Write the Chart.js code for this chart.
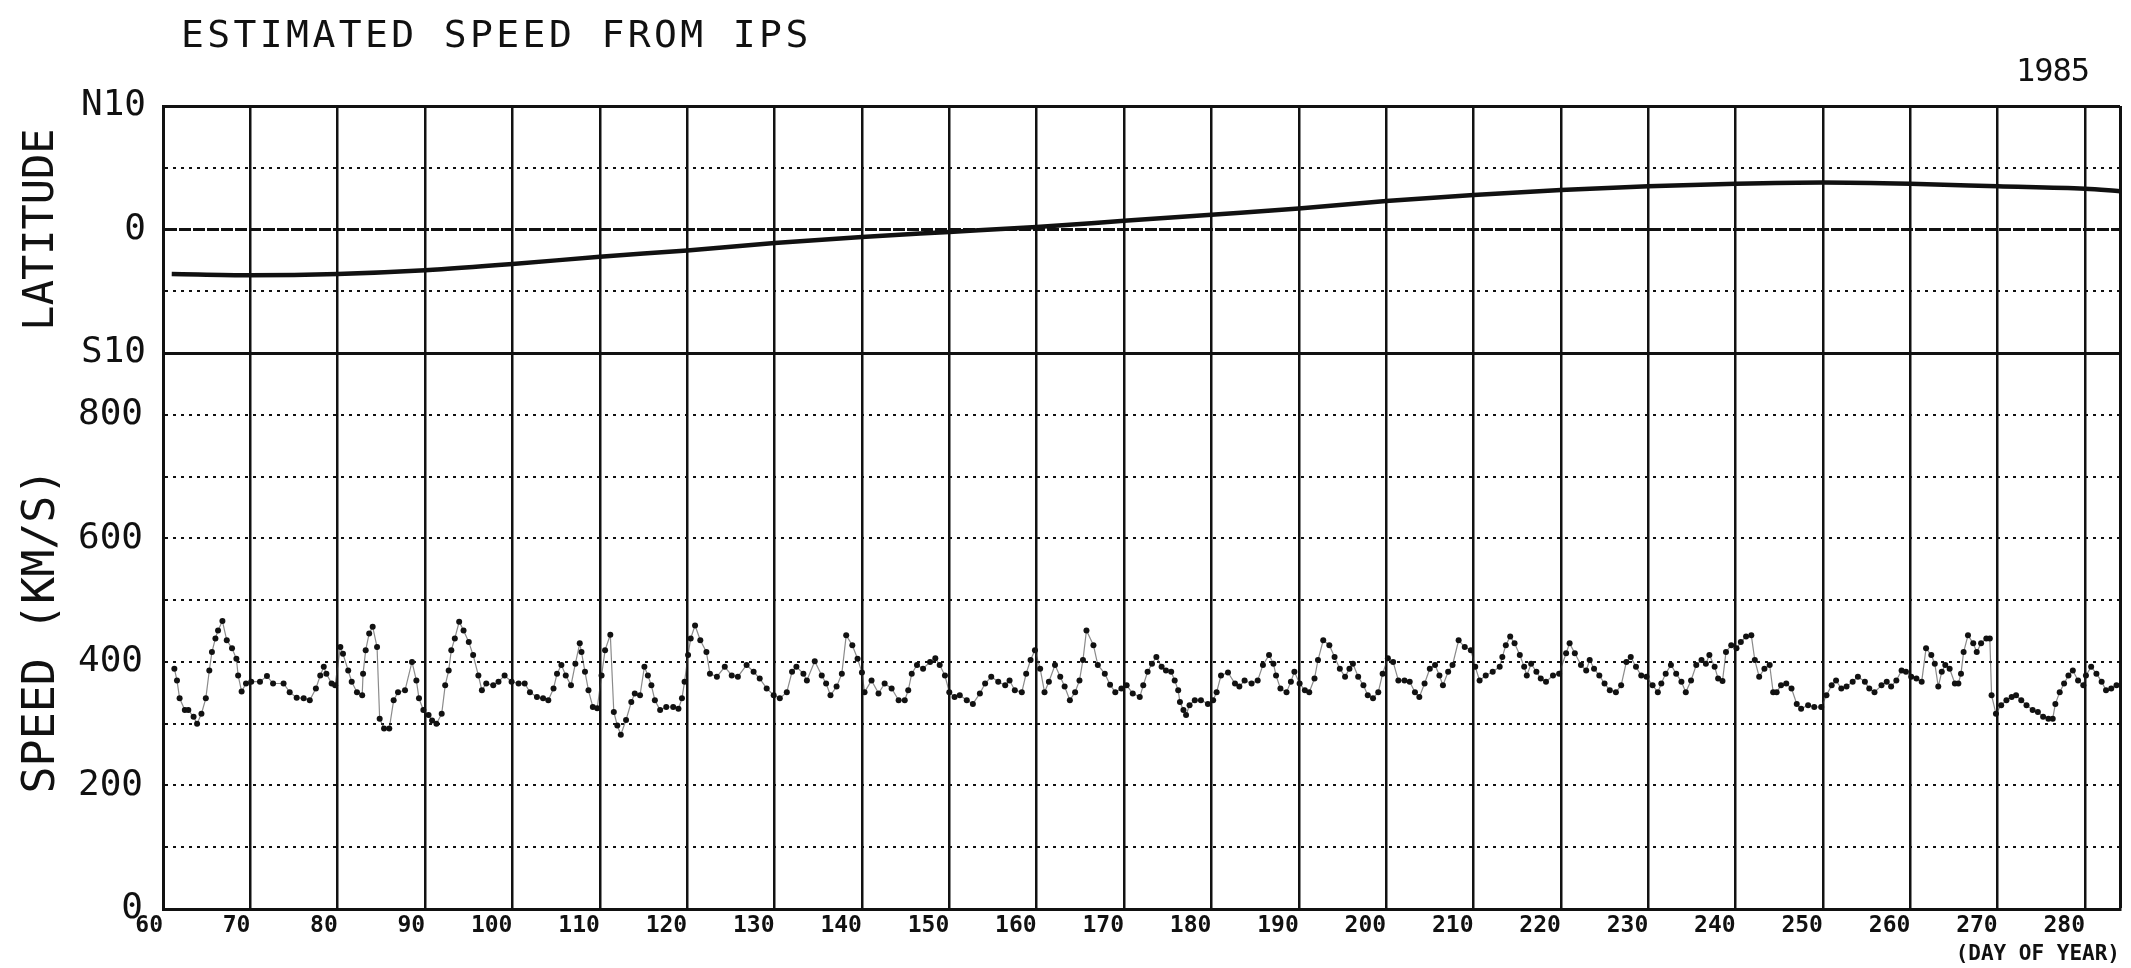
<!DOCTYPE html>
<html>
<head>
<meta charset="utf-8">
<title>Estimated speed from IPS, 1985</title>
<script src="https://cdn.jsdelivr.net/npm/chart.js@4.4.0/dist/chart.umd.min.js"></script>
<style>
    html, body { margin: 0; padding: 0; background: #fff; }
    #wrap { position: relative; width: 2131px; height: 968px; }
    #chartTitle { position: absolute; left: 181px; top: 15px; font: 38px 'DejaVu Sans Mono', monospace; letter-spacing: 3.4px; line-height: 1; color: #111; white-space: nowrap; }
    #chartYear { position: absolute; right: 42px; top: 54px; font: 32px 'DejaVu Sans Mono', monospace; letter-spacing: -1px; line-height: 1; color: #111; }
</style>
</head>
<body>
<div id="wrap">
    <canvas id="ipsChart" width="2131" height="968"></canvas>
    <div id="chartTitle">ESTIMATED SPEED FROM IPS</div>
    <div id="chartYear">1985</div>
</div>
<script>
// x axis: day of year
const xMin = 60;
const xMax = 284;
const dayTicks = [60, 70, 80, 90, 100, 110, 120, 130, 140, 150, 160, 170, 180, 190, 200, 210, 220, 230, 240, 250, 260, 270, 280];

// upper panel: latitude (N10 .. S10)
const latTicks = [-10, -5, 0, 5, 10];
const latTickLabels = { '10': 'N10', '0': '0', '-10': 'S10' };
const latDays = [61, 70, 80, 90, 100, 110, 120, 130, 140, 150, 160, 170, 180, 190, 200, 210, 220, 230, 240, 250, 260, 270, 280, 284];
const latValues = [-3.6, -3.7, -3.6, -3.3, -2.8, -2.2, -1.7, -1.1, -0.6, -0.2, 0.2, 0.7, 1.2, 1.7, 2.3, 2.8, 3.2, 3.5, 3.7, 3.8, 3.7, 3.5, 3.3, 3.1];

// lower panel: speed (km/s)
const speedTicks = [0, 100, 200, 300, 400, 500, 600, 700, 800, 900];
const speedLabelled = [0, 200, 400, 600, 800];
const speedDays = [
    61.3, 61.6, 61.9, 62.5, 62.9, 63.5, 63.9, 64.4, 64.9, 65.3, 65.6, 66.0, 66.3, 66.8, 67.3, 67.9, 68.4, 68.6, 69.0, 69.5,
    70.1, 71.1, 71.9, 72.6, 73.8, 74.5, 75.3, 76.1, 76.8, 77.5, 78.0, 78.4, 78.7, 79.3, 79.7, 80.3, 80.6, 81.2, 81.6, 82.2,
    82.8, 82.9, 83.2, 83.6, 84.0, 84.5, 84.8, 85.3, 85.9, 86.4, 86.9, 87.7, 88.5, 89.0, 89.3, 89.8, 90.4, 90.8, 91.3, 91.9,
    92.3, 92.7, 93.0, 93.4, 93.9, 94.4, 95.0, 95.5, 96.1, 96.5,
    97.0, 97.8, 98.4, 99.1, 99.9, 100.7, 101.4, 102.0, 102.8, 103.5, 104.1, 104.7, 105.1, 105.6, 106.1, 106.7, 107.2, 107.7, 107.9, 108.3,
    108.7, 109.2, 109.7, 110.2, 110.6, 111.2, 111.6, 112.0, 112.4, 113.0, 113.6, 114.0, 114.6, 115.1, 115.5, 115.9, 116.3, 116.9, 117.6, 118.4,
    119.0, 119.4, 119.7, 120.1, 120.4, 120.9, 121.5, 122.2, 122.6, 123.4, 124.3, 125.1, 125.8, 126.8, 127.6, 128.3, 129.1, 129.9, 130.6, 131.4,
    132.0, 132.5, 133.3,
    133.7, 134.6, 135.4, 135.9, 136.4, 137.1, 137.7, 138.2, 138.9, 139.5, 140.0, 140.3, 141.1, 141.9, 142.6, 143.4, 144.2, 144.9, 145.3, 145.7,
    146.3, 147.0, 147.8, 148.4, 148.9, 149.5, 150.0, 150.6, 151.2, 152.0, 152.7, 153.5, 154.1, 154.8, 155.6, 156.4, 156.9, 157.5, 158.3, 158.8,
    159.3, 159.8, 160.4, 160.9, 161.4, 162.1, 162.7, 163.2, 163.8, 164.4, 164.9, 165.3, 165.7, 166.5, 167.0, 167.8, 168.4, 169.0, 169.7,
    170.3, 171.0, 171.8, 172.2, 172.7, 173.2, 173.7, 174.3, 174.8, 175.4, 175.8, 176.2, 176.4, 176.8, 177.1, 177.5, 178.1, 178.8, 179.6, 180.2,
    180.6, 181.1, 181.9, 182.7, 183.2, 183.8, 184.6, 185.3, 185.9, 186.6, 187.1, 187.4, 187.9, 188.6, 189.1, 189.5, 190.1, 190.7, 191.2, 191.8,
    192.2, 192.8, 193.5, 194.1, 194.7, 195.3, 195.8, 196.2, 196.8, 197.4, 197.9, 198.5, 199.1, 199.6, 200.2, 200.8, 201.4, 202.1, 202.7, 203.3,
    203.8, 204.4, 205.0, 205.6, 206.1,
    206.5, 207.1, 207.6, 208.3, 209.0, 209.7, 210.2, 210.7, 211.4, 212.2, 213.0, 213.3, 213.7, 214.2, 214.7, 215.3, 215.8, 216.1, 216.6, 217.2,
    217.7, 218.3, 219.1, 219.8, 220.6, 221.0, 221.6, 222.3, 222.9, 223.3, 223.8, 224.4, 225.0, 225.6, 226.3, 226.9, 227.5, 228.0, 228.6, 229.2,
    229.8, 230.5, 231.1, 231.5, 232.0, 232.6, 233.2, 233.8, 234.3, 234.9, 235.5, 236.1, 236.6, 237.0, 237.6, 238.0, 238.5, 238.9, 239.5, 240.1,
    240.6, 241.2, 241.8, 242.2, 242.7, 243.3, 243.9, 244.3,
    244.7, 245.2, 245.8, 246.4, 247.0, 247.5, 248.3, 249.0, 249.8, 250.4, 251.0, 251.5, 252.1, 252.7, 253.4, 254.0, 254.8, 255.3, 255.9, 256.7,
    257.3, 257.8, 258.4, 259.0, 259.5, 260.1, 260.7, 261.3, 261.8, 262.4, 262.8, 263.2, 263.6, 264.0, 264.5, 265.1, 265.5, 265.8, 266.1, 266.6,
    267.2, 267.6, 268.1, 268.7, 269.1, 269.3, 269.8, 270.4, 271.0, 271.6, 272.1, 272.7, 273.3, 274.0, 274.6, 275.2, 275.8, 276.3, 276.6, 277.1,
    277.6, 278.1, 278.6, 279.2, 279.8, 280.1, 280.7, 281.3, 281.9, 282.4, 283.0, 283.6
];
const speedValues = [
    389, 370, 341, 322, 322, 311, 300, 316, 341, 386, 416, 438, 451, 466, 435, 422, 405, 378, 352, 365,
    368, 368, 377, 365, 365, 351, 342, 341, 338, 357, 378, 392, 381, 365, 362, 424, 413, 386, 368, 351,
    346, 381, 419, 446, 457, 424, 308, 292, 292, 338, 351, 354, 400, 370, 341, 322, 314, 305, 300, 316,
    362, 386, 419, 438, 465, 451, 432, 411, 378, 354,
    365, 362, 368, 378, 368, 365, 365, 351, 343, 341, 338, 357, 381, 395, 378, 362, 397, 430, 416, 384,
    354, 327, 325, 378, 419, 444, 319, 297, 282, 306, 335, 349, 346, 392, 378, 362, 338, 322, 327, 327,
    324, 341, 368, 411, 438, 459, 435, 416, 381, 376, 392, 378, 376, 395, 384, 373, 357, 346, 341, 351,
    384, 392, 381,
    370, 401, 378, 365, 346, 360, 381, 443, 427, 405, 383, 351, 370, 349, 365, 357, 338, 338, 354, 381,
    395, 389, 400, 406, 395, 378, 351, 343, 346, 338, 332, 349, 365, 376, 368, 362, 370, 354, 351, 381,
    403, 419, 389, 351, 368, 395, 376, 360, 338, 351, 370, 403, 451, 427, 395, 381, 363, 351, 357,
    362, 349, 343, 362, 384, 397, 408, 392, 386, 384, 370, 354, 335, 322, 314, 330, 338, 338, 332, 338,
    351, 378, 383, 365, 360, 370, 365, 370, 395, 411, 397, 378, 357, 351, 368, 384, 365, 354, 351, 373,
    403, 435, 427, 408, 389, 376, 389, 397, 376, 362, 346, 341, 351, 381, 406, 400, 370, 370, 368, 351,
    343, 365, 389, 395, 378,
    362, 384, 395, 435, 424, 419, 392, 370, 378, 384, 392, 408, 427, 441, 430, 411, 392, 378, 397, 384,
    373, 368, 378, 381, 414, 430, 414, 395, 386, 403, 389, 378, 365, 354, 351, 362, 400, 408, 392, 378,
    376, 362, 351, 365, 381, 395, 381, 368, 351, 370, 395, 403, 397, 411, 392, 373, 369, 416, 427, 422,
    432, 441, 443, 403, 376, 389, 395, 351,
    351, 362, 365, 357, 332, 324, 330, 327, 327, 346, 362, 370, 357, 360, 368, 376, 368, 357, 351, 362,
    368, 360, 370, 386, 384, 376, 373, 368, 422, 411, 397, 360, 384, 395, 389, 365, 365, 381, 416, 443,
    430, 416, 430, 438, 438, 346, 316, 330, 338, 343, 346, 338, 330, 322, 319, 311, 308, 308, 332, 351,
    365, 378, 386, 370, 362, 378, 392, 381, 368, 354, 357, 362
];

const INK = '#111';
const FONT = "'DejaVu Sans Mono', monospace";

const latData = latDays.map((d, i) => ({ x: d, y: latValues[i] }));
const speedData = speedDays.map((d, i) => ({ x: d, y: speedValues[i] }));

const tickValue = c => (c.tick ? c.tick.value : null);

new Chart(document.getElementById('ipsChart'), {
    type: 'line',
    data: {
        datasets: [
            {
                label: 'Latitude',
                data: latData,
                yAxisID: 'yLat',
                borderColor: INK,
                borderWidth: 4.5,
                pointRadius: 0,
                tension: 0.4,
                cubicInterpolationMode: 'monotone'
            },
            {
                label: 'Speed',
                data: speedData,
                yAxisID: 'ySpeed',
                borderColor: 'rgba(60,60,60,0.6)',
                borderWidth: 1.2,
                pointRadius: 3,
                pointBorderWidth: 0,
                pointBackgroundColor: INK,
                tension: 0
            }
        ]
    },
    options: {
        responsive: false,
        animation: false,
        events: [],
        layout: { padding: { left: 0, right: 11, top: 106, bottom: 0 } },
        plugins: { legend: { display: false }, tooltip: { enabled: false } },
        scales: {
            x: {
                type: 'linear', min: xMin, max: xMax,
                afterBuildTicks: axis => { axis.ticks = dayTicks.concat([xMax]).map(v => ({ value: v })); },
                afterFit: axis => { axis.height = 59; },
                grid: { color: INK, lineWidth: c => (tickValue(c) === xMax ? 3 : 2.5), drawTicks: false },
                border: { color: INK, width: 3 },
                ticks: {
                    align: 'end', padding: 3, maxRotation: 0, autoSkip: false, color: INK,
                    font: { family: FONT, size: 23, weight: 'bold' },
                    callback: v => (dayTicks.includes(v) ? String(v) : '')
                },
                title: {
                    display: true, text: '(DAY OF YEAR)', align: 'end', color: INK,
                    font: { family: FONT, size: 21, weight: 'bold' }, padding: { top: 0, bottom: 1 }
                }
            },
            ySpeed: {
                type: 'linear', position: 'left', stack: 'panels', stackWeight: 556, min: 0, max: 900,
                afterBuildTicks: axis => { axis.ticks = speedTicks.map(v => ({ value: v })); },
                afterFit: axis => { axis.width = 163; },
                grid: {
                    color: INK, drawTicks: false,
                    lineWidth: c => (tickValue(c) === 900 || tickValue(c) === 0 ? 3 : 2)
                },
                border: {
                    color: INK, width: 3,
                    dash: c => (c.tick && c.tick.value > 0 && c.tick.value < 900 ? [3, 5] : [])
                },
                ticks: {
                    padding: 20, autoSkip: false, color: INK, font: { family: FONT, size: 36 },
                    callback: v => (speedLabelled.includes(v) ? String(v) : '')
                },
                title: {
                    display: true, text: 'SPEED (KM/S)', color: INK,
                    font: { family: FONT, size: 45 }, padding: { top: 15, bottom: 0 }
                }
            },
            yLat: {
                type: 'linear', position: 'left', stack: 'panels', stackWeight: 247, min: -10, max: 10,
                afterBuildTicks: axis => { axis.ticks = latTicks.map(v => ({ value: v })); },
                afterFit: axis => { axis.width = 163; },
                grid: {
                    color: INK, drawTicks: false,
                    lineWidth: c => {
                        const v = tickValue(c);
                        if (v === 10 || v === -10) return 3;
                        return v === 0 ? 3 : 2;
                    }
                },
                border: {
                    color: INK, width: 3,
                    dash: c => {
                        const v = tickValue(c);
                        if (v === 5 || v === -5) return [3, 5];
                        if (v === 0) return [12, 2];
                        return [];
                    }
                },
                ticks: {
                    padding: 17, autoSkip: false, color: INK, font: { family: FONT, size: 36 },
                    callback: v => latTickLabels[String(v)] || ''
                },
                title: {
                    display: true, text: 'LATITUDE', color: INK,
                    font: { family: FONT, size: 42 }, padding: { top: 17, bottom: 0 }
                }
            }
        }
    }
});
</script>
</body>
</html>
